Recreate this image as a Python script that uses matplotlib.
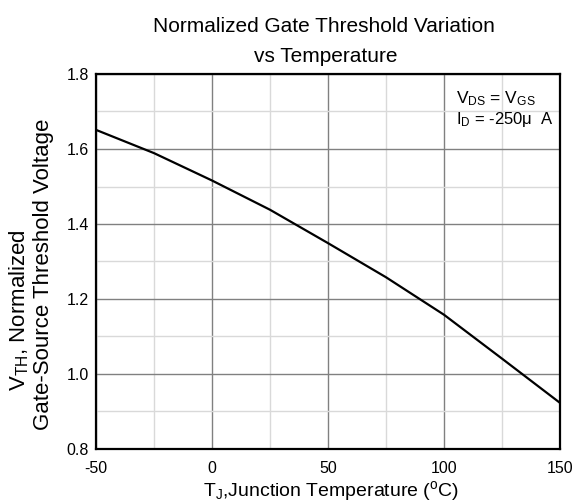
import matplotlib
matplotlib.use("Agg")
import matplotlib.pyplot as plt
from matplotlib.ticker import MultipleLocator

plt.rcParams['font.family'] = ['Liberation Sans', 'DejaVu Sans']
plt.rcParams['mathtext.fontset'] = 'custom'
plt.rcParams['mathtext.rm'] = 'Liberation Sans'
plt.rcParams['mathtext.it'] = 'Liberation Sans'

temperature = [-50, -25, 0, 25, 50, 75, 100, 125, 150]
vth_norm = [1.651, 1.589, 1.516, 1.438, 1.349, 1.258, 1.158, 1.041, 0.923]
x_ticks = [-50, 0, 50, 100, 150]
y_ticks = [0.8, 1.0, 1.2, 1.4, 1.6, 1.8]

W, H = 573, 503
fig = plt.figure(figsize=(W / 100, H / 100), dpi=100)
ax = fig.add_axes([96 / W, 1 - 449 / H, 464 / W, 375 / H])

ax.plot(temperature, vth_norm, color='black', lw=1.6, zorder=3)

ax.set_xlim(-50, 150)
ax.set_ylim(0.8, 1.8)
ax.set_xticks(x_ticks)
ax.set_yticks(y_ticks)
ax.set_xticklabels([str(t) for t in x_ticks])
ax.set_yticklabels([f"{v:.1f}" for v in y_ticks])
ax.xaxis.set_minor_locator(MultipleLocator(25))
ax.yaxis.set_minor_locator(MultipleLocator(0.1))
ax.grid(which='major', color='#808080', lw=1.0, zorder=1)
ax.grid(which='minor', color='#d9d9d9', lw=1.0, zorder=0)
ax.tick_params(which='both', length=0, labelsize=11.5)
ax.tick_params(axis='x', pad=8.5)
ax.tick_params(axis='y', pad=5)
for s in ax.spines.values():
    s.set_color('black')
    s.set_linewidth(1.6)
    s.set_zorder(4)

fig.text(331 / W, 1 - 496 / H, r'T$_{\mathrm{J}}$,Junction Temperature ($^{\mathrm{o}}$C)',
         ha='center', va='baseline', fontsize=14)

fig.text(19 / W, 1 - 310 / H, r'V$_{\mathrm{TH}}$, Normalized', rotation=90,
         ha='center', va='center', fontsize=16)
fig.text(44 / W, 1 - 274.5 / H, 'Gate-Source Threshold Voltage', rotation=90,
         ha='center', va='center', fontsize=16)

fig.text(324 / W, 1 - 26 / H, 'Normalized Gate Threshold Variation', ha='center', va='center', fontsize=15)
fig.text(326 / W, 1 - 56 / H, 'vs Temperature', ha='center', va='center', fontsize=15)

ax.text(0.776, 0.9227, r'V$_{\mathrm{DS}}$ = V$_{\mathrm{GS}}$', transform=ax.transAxes,
        fontsize=12.5, va='baseline', ha='left')
ax.text(0.776, 0.8667, r'I$_{\mathrm{D}}$ = -250μ  A', transform=ax.transAxes,
        fontsize=12, va='baseline', ha='left')

fig.savefig('out.png', dpi=100)
